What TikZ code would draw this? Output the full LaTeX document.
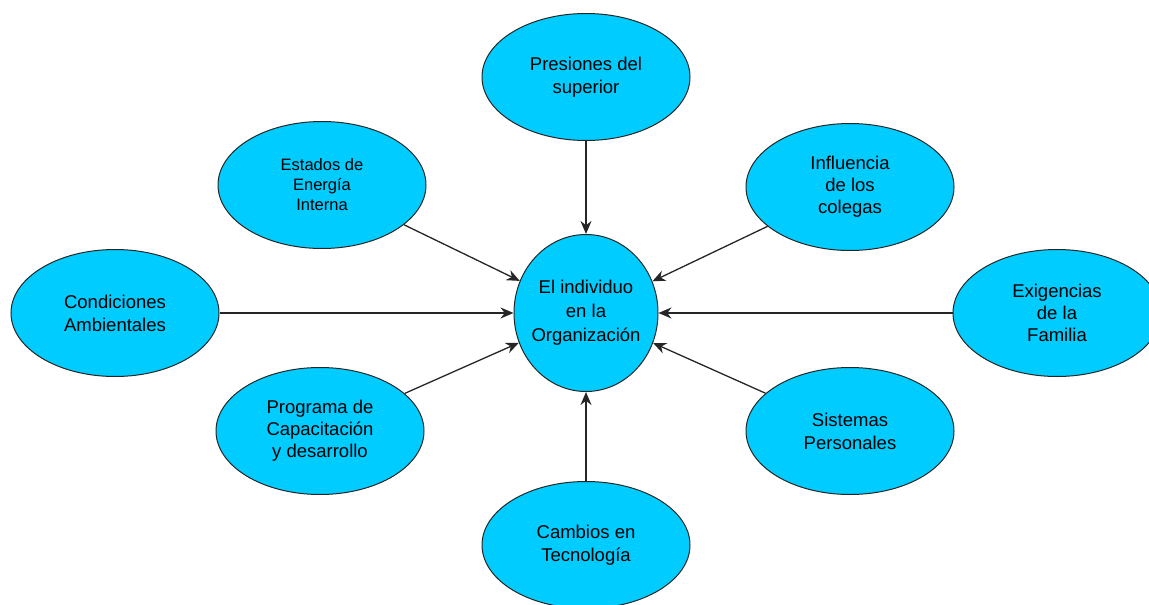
\documentclass[tikz,border=0pt]{standalone}
\usepackage{fontspec}
\setmainfont{Liberation Sans}
\usetikzlibrary{shapes.geometric,arrows.meta}
\definecolor{fillc}{HTML}{00CCFF}
\begin{document}
\begin{tikzpicture}[x=1pt,y=-1pt,
  ell/.style={ellipse, draw=black!85, line width=1pt, fill=fillc,
    minimum width=208pt, minimum height=127pt, inner sep=0pt},
  txt/.style={align=center, font=\fontsize{18.5}{23}\selectfont, text=black},
  txtsmall/.style={align=center, font=\fontsize{16.5}{20}\selectfont, text=black},
  arr/.style={-{Stealth[length=13pt,width=11pt]}, line width=1.3pt, draw=black!85}]
\useasboundingbox (0,0) rectangle (1149,605);
\node[ell, minimum width=144pt, minimum height=157pt,
  label={[txt,font=\fontsize{18.5}{24}\selectfont]center:{El individuo\\en la\\Organización}}] (ind) at (586,313) {};
\node[ell, label={[txt]center:{Presiones del\\superior}}] (pres) at (586,77) {};
\node[ell, label={[txtsmall]center:{Estados de\\Energía\\Interna}}] (est) at (322,185) {};
\node[ell, label={[txt,font=\fontsize{18.5}{22}\selectfont]center:{Influencia\\de los\\colegas}}] (inf) at (850,187) {};
\node[ell, label={[txt]center:{Condiciones\\Ambientales}}] (cond) at (115,313) {};
\node[ell, label={[txt,font=\fontsize{18.5}{22}\selectfont]center:{Exigencias\\de la\\Familia}}] (exi) at (1057,313) {};
\node[ell, label={[txt,font=\fontsize{18.5}{22}\selectfont]center:{Programa de\\Capacitación\\y desarrollo}}] (prog) at (320,431) {};
\node[ell, label={[txt]center:{Sistemas\\Personales}}] (sis) at (850,431) {};
\node[ell, label={[txt]center:{Cambios en\\Tecnología}}] (camb) at (586,545) {};
\draw[arr] (pres) -- (ind);
\draw[arr] (est) -- (ind);
\draw[arr] (inf) -- (ind);
\draw[arr] (cond) -- (ind);
\draw[arr] (exi) -- (ind);
\draw[arr] (prog) -- (ind);
\draw[arr] (sis) -- (ind);
\draw[arr] (camb) -- (ind);
\end{tikzpicture}
\end{document}
